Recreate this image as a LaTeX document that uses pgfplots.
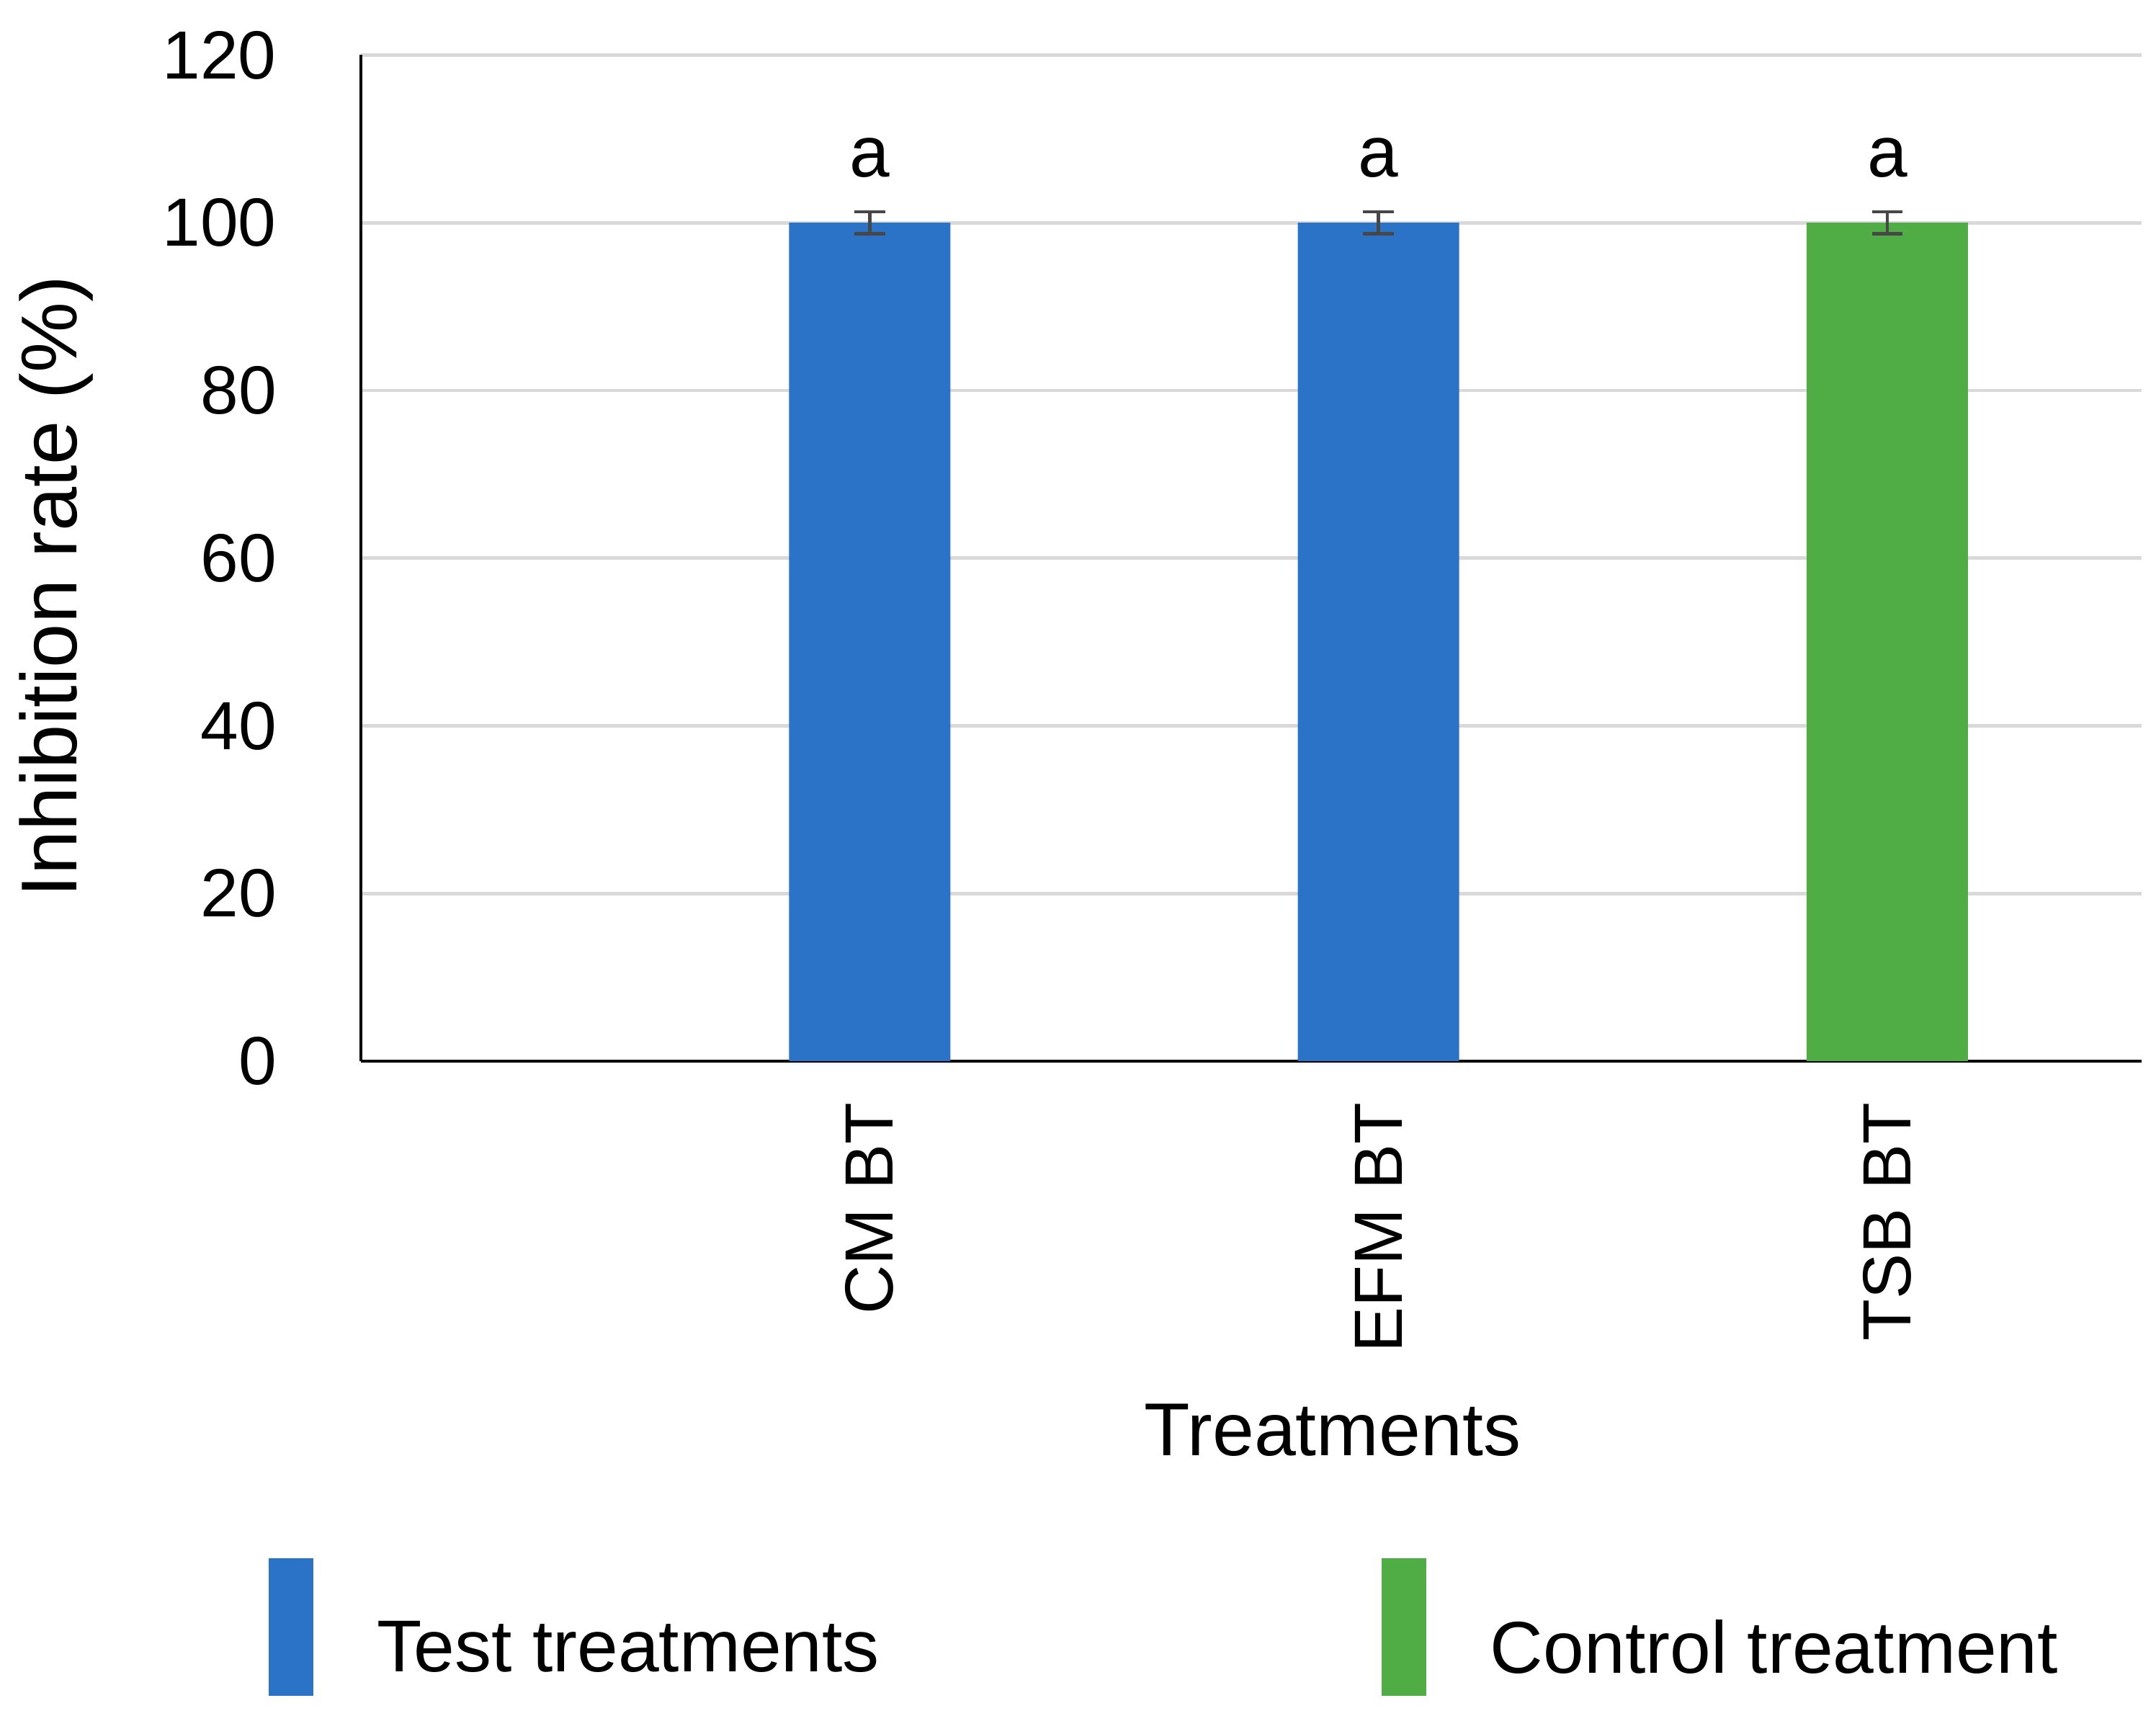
\documentclass[border=0pt]{standalone}
\usepackage{fontspec}
\setmainfont{Liberation Sans}
\usepackage{pgfplots}
\pgfplotsset{compat=1.18}
\definecolor{barblue}{HTML}{2B73C6}
\definecolor{bargreen}{HTML}{50AD45}
\definecolor{errgray}{HTML}{474747}
\definecolor{gridgray}{HTML}{D9D9D9}
\begin{document}
\begin{tikzpicture}
\path[use as bounding box] (0,0) rectangle (448.95bp,357.3bp);
\begin{axis}[
  at={(75.15bp,136.35bp)}, anchor=south west,
  scale only axis, width=370.8bp, height=209.48bp,
  xmin=0, xmax=3.5, ymin=0, ymax=120,
  axis x line*=bottom, axis y line*=left,
  axis line style={-, black, line width=0.69bp},
  ymajorgrids, major grid style={gridgray, line width=0.69bp},
  ytick={0,20,...,120},
  xtick={1,2,3}, xticklabels={CM BT,EFM BT,TSB BT},
  major tick length=0pt,
  /pgf/number format/assume math mode=true,
  yticklabel style={anchor=east, inner sep=0pt, xshift=-17.4bp, font=\fontsize{14.2bp}{17bp}\selectfont},
  xticklabel style={yshift=-8.4bp, rotate=90, anchor=east, inner sep=0pt, font=\fontsize{14.2bp}{17bp}\selectfont},
  xlabel={Treatments}, ylabel={Inhibition rate (\%)},
  xlabel style={at={(axis description cs:0.5457,-0.3921)}, anchor=base, inner sep=0pt, font=\fontsize{15.6bp}{18bp}\selectfont},
  ylabel style={at={(axis description cs:-0.1594,0.4719)}, anchor=base, inner sep=0pt, font=\fontsize{16.5bp}{19bp}\selectfont},
  ybar, bar width=33.6bp, bar shift=0pt,
  legend columns=2,
  legend cell align=left,
  legend style={at={(axis description cs:-0.05178,-0.4941)}, anchor=north west, draw=none, fill=none, inner sep=0pt, outer sep=0pt, font=\fontsize{15.3bp}{18bp}\selectfont, nodes={inner sep=0pt}, /tikz/every odd column/.append style={column sep=13.3bp}, /tikz/every even column/.append style={column sep=104.6bp}},
  nodes near coords={a},
  every node near coord/.append style={anchor=base, yshift=9.6bp, font=\fontsize{15bp}{18bp}\selectfont, text=black},
  error bars/y dir=both, error bars/y explicit,
  error bars/error bar style={draw=errgray, line width=0.7bp},
  error bars/error mark options={rotate=90, draw=errgray, line width=0.7bp, mark size=3.2bp},
]
\addplot[fill=barblue, draw=none, bar shift=0pt, legend image code/.code={\fill[barblue] (0bp,-9.6bp) rectangle (9.3bp,19.05bp);}]
  coordinates {(1,100) +- (0,1.3) (2,100) +- (0,1.3)};
\addlegendentry{Test treatments}
\addplot[fill=bargreen, draw=none, bar shift=0pt, legend image code/.code={\fill[bargreen] (0bp,-9.6bp) rectangle (9.3bp,19.05bp);}]
  coordinates {(3,100) +- (0,1.3)};
\addlegendentry{Control treatment}
\end{axis}
\end{tikzpicture}
\end{document}
